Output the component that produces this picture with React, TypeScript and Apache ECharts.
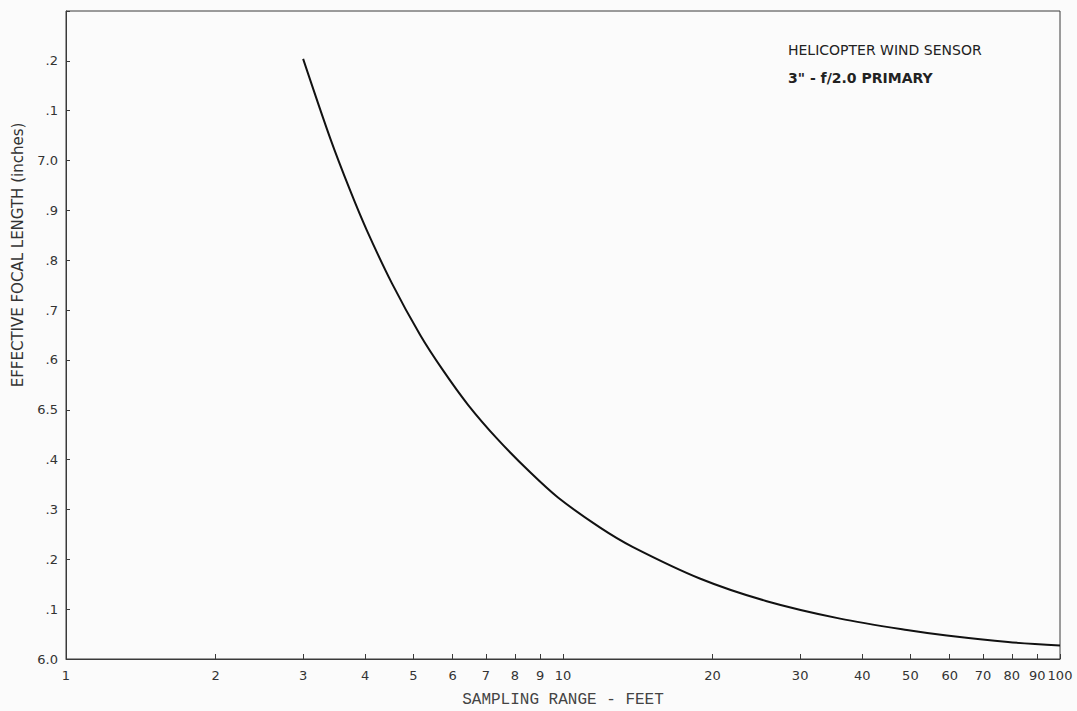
import React, { useEffect, useRef } from "react";
import * as echarts from "echarts";

// Sampling range (feet) and effective focal length (inches)
const rangeFeet = [3.0, 3.4, 3.73, 4.03, 4.53, 5.16, 5.71, 6.44, 7.4, 8.58, 9.77, 11.9, 13.8, 18.9, 25.7, 36.1, 49.2, 59.2, 78.6, 100];
const focalLength = [7.204, 7.045, 6.94, 6.86, 6.753, 6.65, 6.582, 6.51, 6.44, 6.375, 6.324, 6.263, 6.225, 6.161, 6.116, 6.081, 6.058, 6.047, 6.034, 6.027];

// X tick labels (log scale, feet)
const xTicks = [1, 2, 3, 4, 5, 6, 7, 8, 9, 10, 20, 30, 40, 50, 60, 70, 80, 90, 100];

const xTitle = "SAMPLING RANGE - FEET";
const yTitle = "EFFECTIVE FOCAL LENGTH (inches)";
const note1 = "HELICOPTER WIND SENSOR";
const note2 = "3\" - f/2.0 PRIMARY";

const labelFont = "'DejaVu Sans', 'Open Sans', sans-serif";

export default function App() {
  const ref = useRef<HTMLDivElement>(null);
  useEffect(() => {
    if (!ref.current) return;
    const chart = echarts.init(ref.current, null, { renderer: "svg" });
    const logTicks = xTicks.map((v) => Math.log10(v));
    const data = rangeFeet.map((x, i) => [Math.log10(x), focalLength[i]]);
    chart.setOption({
      animation: false,
      backgroundColor: "#fbfbfb",
      grid: {
        left: 66,
        right: 17,
        top: 11,
        bottom: 52,
        outerBoundsMode: "none",
        containLabel: false,
        show: true,
        borderColor: "#3a3a3a",
        borderWidth: 1,
        backgroundColor: "transparent",
      },
      xAxis: {
        type: "value",
        min: 0,
        max: 2,
        name: xTitle,
        nameLocation: "middle",
        nameGap: 33,
        nameTextStyle: {
          fontFamily: "'Liberation Mono', monospace",
          fontSize: 16,
          color: "#444",
        },
        axisLine: { show: true, lineStyle: { color: "#3a3a3a", width: 1 } },
        axisTick: {
          show: true,
          inside: true,
          length: 5,
          customValues: logTicks,
          lineStyle: { color: "#3a3a3a" },
        },
        axisLabel: {
          customValues: logTicks,
          formatter: (v: number) => String(Math.round(Math.pow(10, v))),
          fontFamily: labelFont,
          fontSize: 13,
          color: "#333",
          margin: 10,
        },
        splitLine: { show: false },
      },
      yAxis: {
        type: "value",
        min: 6.0,
        max: 7.3,
        interval: 0.1,
        axisLine: { show: true, lineStyle: { color: "#3a3a3a", width: 1 } },
        axisTick: { show: true, inside: true, length: 4, lineStyle: { color: "#3a3a3a" } },
        axisLabel: {
          formatter: (v: number) => {
            const n = Math.round(v * 10);
            if (n === 73) return "";
            if (n % 5 === 0) return (n / 10).toFixed(1);
            return "." + (n % 10);
          },
          fontFamily: labelFont,
          fontSize: 13,
          color: "#333",
          margin: 8,
        },
        splitLine: { show: false },
      },
      series: [
        {
          type: "line",
          data,
          smooth: 0.3,
          showSymbol: false,
          lineStyle: { color: "#111", width: 2 },
        },
      ],
      graphic: [
        {
          type: "text",
          x: 18,
          y: 255,
          rotation: Math.PI / 2,
          style: {
            text: yTitle,
            fontFamily: labelFont,
            fontSize: 15,
            fill: "#333",
            align: "center",
            verticalAlign: "middle",
          },
        },
        {
          type: "text",
          x: 788,
          y: 50,
          style: {
            text: note1,
            fontFamily: labelFont,
            fontSize: 14,
            fill: "#222",
            align: "left",
            verticalAlign: "middle",
          },
        },
        {
          type: "text",
          x: 788,
          y: 78,
          style: {
            text: note2,
            fontFamily: labelFont,
            fontSize: 14,
            fontWeight: "bold",
            fill: "#222",
            align: "left",
            verticalAlign: "middle",
          },
        },
      ],
    });
    return () => chart.dispose();
  }, []);
  return (
    <div
      ref={ref}
      style={{ position: "absolute", left: 0, top: 0, width: 1077, height: 711 }}
    />
  );
}
